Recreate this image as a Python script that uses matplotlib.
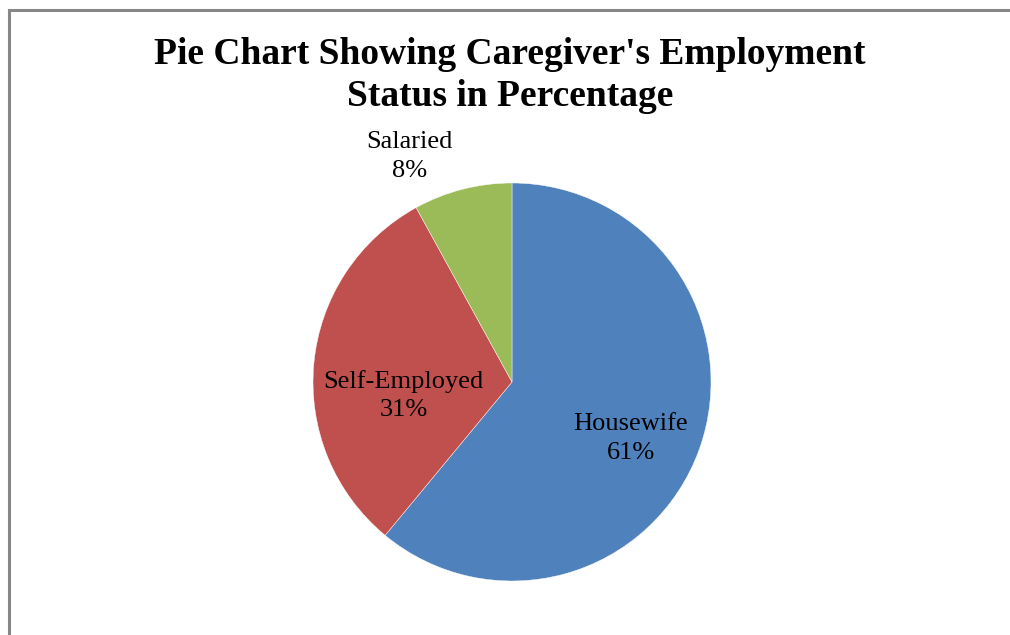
import numpy as np
import matplotlib
matplotlib.use("Agg")
import matplotlib.pyplot as plt
from matplotlib.lines import Line2D

# data
labels = ["Housewife", "Self-Employed", "Salaried"]
values = [61, 31, 8]
colors = ["#4F81BD", "#C0504D", "#9BBB59"]

plt.rcParams['font.family'] = ['Liberation Serif', 'DejaVu Serif']

fig = plt.figure(figsize=(10.1, 6.35), dpi=100)

# chart border (only left and top are visible in the reference)
fig.add_artist(Line2D([9 / 1010, 9 / 1010], [0, 1 - 10 / 635], color="#878787", lw=2.2))
fig.add_artist(Line2D([9 / 1010, 1], [1 - 10 / 635, 1 - 10 / 635], color="#878787", lw=2.2))

fig.text(0.505, 1 - 55 / 635, "Pie Chart Showing Caregiver's Employment", ha="center", va="center",
         fontsize=27, fontweight="bold")
fig.text(0.505, 1 - 97 / 635, "Status in Percentage", ha="center", va="center",
         fontsize=27, fontweight="bold")

# pie axes: center (512, 382), radius 199 px
r = 199
ax = fig.add_axes([(512 - r) / 1010, (635 - 382 - r) / 635, 2 * r / 1010, 2 * r / 635])
wedges, _ = ax.pie(values, colors=colors, startangle=90, counterclock=False,
                   wedgeprops=dict(linewidth=0.3, edgecolor="white"))
ax.set_xlim(-1, 1)
ax.set_ylim(-1, 1)
for w in wedges:
    w.set_clip_on(False)

# label placement: (distance from center, angle shift in degrees)
placement = [(0.66, -5.5), (0.55, 12.5), (1.245, 10)]
for w, lab, v, (dist, shift) in zip(wedges, labels, values, placement):
    ang = np.deg2rad((w.theta1 + w.theta2) / 2 + shift)
    ax.text(dist * np.cos(ang), dist * np.sin(ang), f"{lab}\n{v}%", ha="center", va="center",
            fontsize=19, linespacing=1.4)

fig.savefig("out.png", dpi=100)
